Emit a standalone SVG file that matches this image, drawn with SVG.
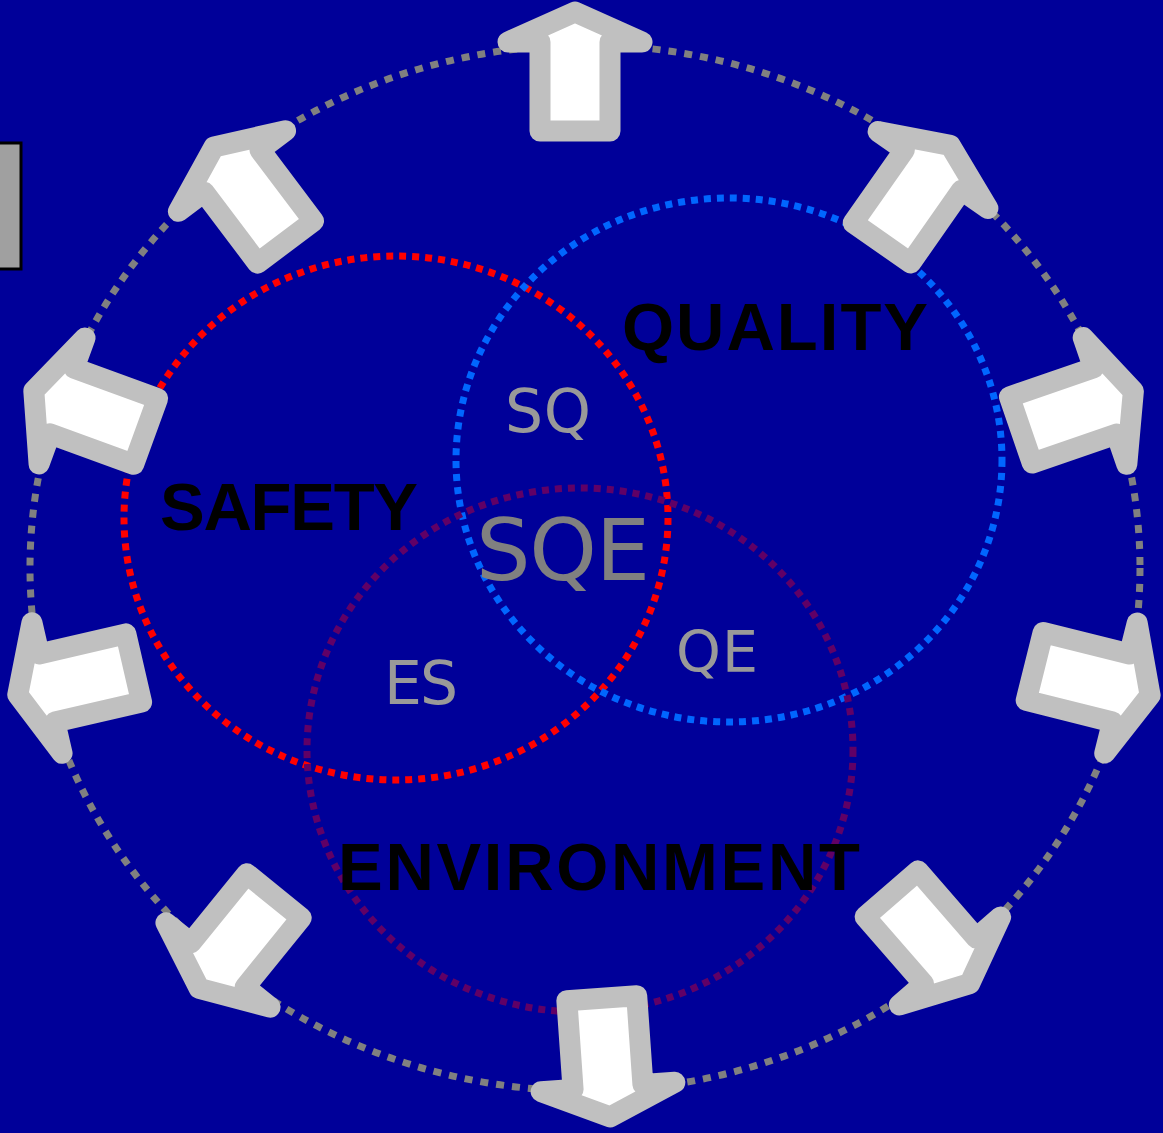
<svg xmlns="http://www.w3.org/2000/svg" width="1163" height="1133" viewBox="0 0 1163 1133">
<defs>
<style>
.ring{fill:none;stroke-width:7;stroke-dasharray:7 6}
.outer{fill:none;stroke:#808080;stroke-width:7;stroke-dasharray:8 8}
.arrow{fill:#FFFFFF;stroke:#C0C0C0;stroke-width:21;stroke-linejoin:round}
.title{font-family:"Liberation Sans",Arial,sans-serif;font-weight:bold;font-size:67px;fill:#000000}
.sub{font-family:"DejaVu Sans",Verdana,sans-serif;fill:#999999}
</style>
<polygon id="arr" points="0,-30 67,0 35,0 35,89 -35,89 -35,0 -67,0"/>
</defs>
<rect x="0" y="0" width="1163" height="1133" fill="#000099"/>
<rect id="sidebox" x="-10" y="143" width="31" height="126" fill="#A0A0A0" stroke="#000000" stroke-width="3"/>
<g id="connectors">
<ellipse class="outer" cx="585" cy="568" rx="555" ry="523"/>
</g>
<g id="safety-circle"><ellipse class="ring" cx="396" cy="518" rx="272" ry="262" stroke="#FF0000"/></g>
<g id="quality-circle"><ellipse class="ring" cx="729" cy="460" rx="273" ry="262" stroke="#0066FF"/></g>
<g id="environment-circle"><ellipse class="ring" cx="580" cy="750" rx="273" ry="262" stroke="#600066"/></g>
<g id="arrow-top"><use href="#arr" class="arrow" transform="translate(575,42) rotate(0)"/></g>
<g id="arrow-upper-right"><use href="#arr" class="arrow" transform="translate(933,170) rotate(35)"/></g>
<g id="arrow-right-upper"><use href="#arr" class="arrow" transform="translate(1105,401) rotate(71)"/></g>
<g id="arrow-right-lower"><use href="#arr" class="arrow" transform="translate(1121,688) rotate(104)"/></g>
<g id="arrow-lower-right"><use href="#arr" class="arrow" transform="translate(950,961) rotate(139)"/></g>
<g id="arrow-bottom"><use href="#arr" class="arrow" transform="translate(608,1087) rotate(176)"/></g>
<g id="arrow-lower-left"><use href="#arr" class="arrow" transform="translate(218,965) rotate(-141)"/></g>
<g id="arrow-left-lower"><use href="#arr" class="arrow" transform="translate(47,688) rotate(-103)"/></g>
<g id="arrow-left-upper"><use href="#arr" class="arrow" transform="translate(62,401) rotate(-70)"/></g>
<g id="arrow-upper-left"><use href="#arr" class="arrow" transform="translate(232,171) rotate(-37)"/></g>
<g id="labels">
<text class="title" x="622" y="350" textLength="306">QUALITY</text>
<text class="title" x="160" y="530" textLength="258">SAFETY</text>
<text class="title" x="338" y="890" textLength="522">ENVIRONMENT</text>
<text class="sub" x="505" y="432" font-size="60" textLength="86">SQ</text>
<text class="sub" x="476" y="580" font-size="86" textLength="174" style="fill:#808080">SQE</text>
<text class="sub" x="676" y="672" font-size="57" textLength="82">QE</text>
<text class="sub" x="384" y="704" font-size="60" textLength="74">ES</text>
</g>
</svg>
